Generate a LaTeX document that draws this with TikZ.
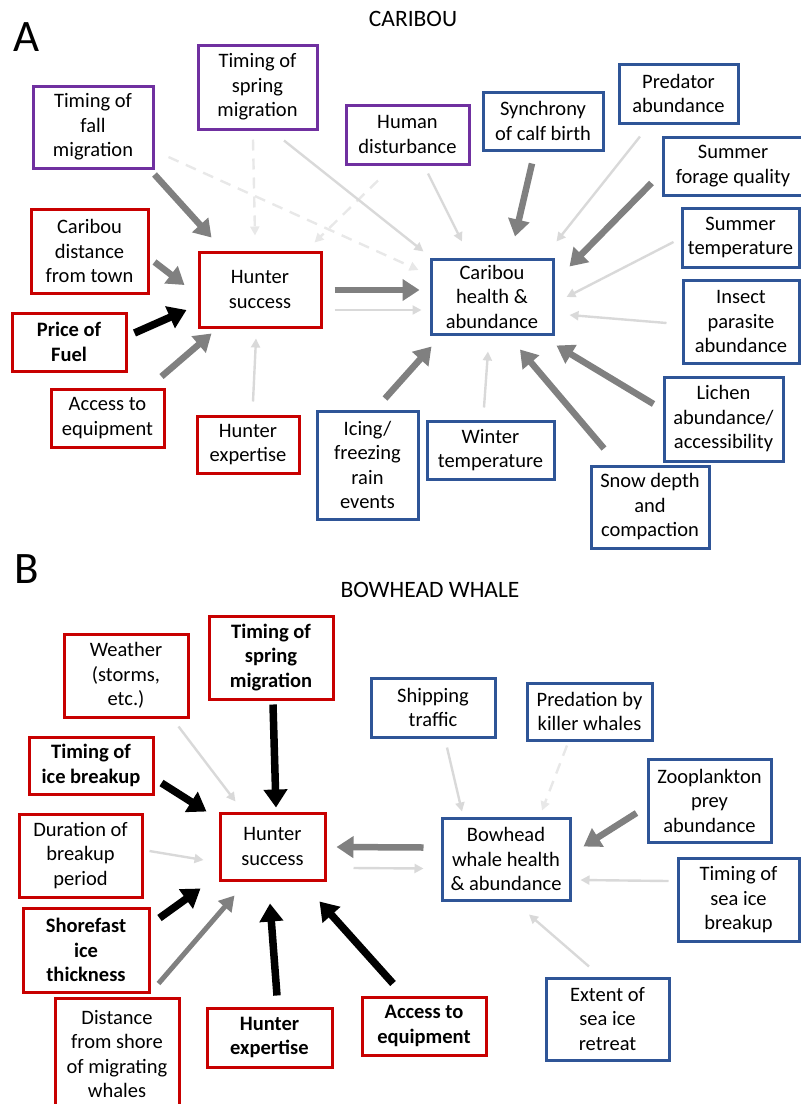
\documentclass[tikz,border=0pt]{standalone}
\usepackage{fontspec}
\setmainfont{Carlito}
\usetikzlibrary{arrows.meta}
\definecolor{boxred}{RGB}{200,0,0}
\definecolor{boxblue}{RGB}{47,85,151}
\definecolor{boxpurple}{RGB}{112,48,160}
\definecolor{arrgray}{RGB}{128,128,128}
\definecolor{arrlight}{RGB}{217,217,217}
\definecolor{arrfaint}{RGB}{232,232,232}
\tikzset{
  box/.style={draw, line width=3pt, fill=white, inner sep=0pt, align=center,
    font=\fontsize{20.5}{24.5}\selectfont},
  redbox/.style={box, draw=boxred},
  bluebox/.style={box, draw=boxblue},
  purplebox/.style={box, draw=boxpurple},
  strong/.style={line width=6.5pt, arrgray, -{Triangle[length=17pt,width=21pt]}},
  black strong/.style={line width=7.5pt, black, -{Triangle[length=18pt,width=23pt]}},
  weak/.style={line width=2.4pt, arrlight, -{Triangle[length=9pt,width=9pt]}},
  faint/.style={line width=2.4pt, arrfaint, dash pattern=on 11pt off 8pt, -{Triangle[length=9pt,width=9pt]}},
  panel/.style={font=\fontsize{45}{50}\selectfont},
  heading/.style={font=\fontsize{23.5}{27}\selectfont}
}
\begin{document}
\begin{tikzpicture}[x=1pt,y=-1pt]
\useasboundingbox (0,0) rectangle (801,1104);

% ---------------- Panel A: caribou ----------------
\node[panel] (labA) at (27,37) {A};
\node[heading] (titleA) at (413,19) {CARIBOU};

% boxes
\node[purplebox, minimum width=119pt, minimum height=84pt] (springA) at (257.5,87) {Timing of\\spring\\migration};
\node[purplebox, minimum width=123pt, minimum height=59pt] (humdist) at (407.5,134.5) {Human\\disturbance};
\node[purplebox, minimum width=120pt, minimum height=82pt] (fall) at (93,127) {Timing of\\fall\\migration};
\node[redbox, minimum width=117pt, minimum height=84pt] (cdist) at (89.5,251) {Caribou\\distance\\from town};
\node[redbox, minimum width=122pt, minimum height=75pt] (hsA) at (260,289.5) {Hunter\\success};
\node[redbox, minimum width=114pt, minimum height=58pt] (fuel) at (69,342) {\textbf{Price of}\\\textbf{Fuel}};
\node[redbox, minimum width=113pt, minimum height=58pt] (accA) at (107.5,418) {Access to\\equipment};
\node[redbox, minimum width=102pt, minimum height=57pt] (hexA) at (248,444.5) {Hunter\\expertise};
\node[bluebox, minimum width=122pt, minimum height=75pt] (chA) at (492,296.5) {Caribou\\health \&\\abundance};
\node[bluebox, minimum width=101pt, minimum height=108pt] (icing) at (367.5,465) {Icing/\\freezing\\rain\\events};
\node[bluebox, minimum width=127pt, minimum height=58pt] (wint) at (490.5,450) {Winter\\temperature};
\node[bluebox, minimum width=118pt, minimum height=82pt] (snow) at (650,507) {Snow depth\\and\\compaction};
\node[bluebox, minimum width=119pt, minimum height=84pt] (lichen) at (723.5,419) {Lichen\\abundance/\\accessibility};
\node[bluebox, minimum width=116pt, minimum height=83pt] (insect) at (741,321.5) {Insect\\parasite\\abundance};
\node[bluebox, minimum width=117pt, minimum height=59pt] (stemp) at (740.5,237.5) {Summer\\temperature};
\node[bluebox, minimum width=140pt, minimum height=58pt] (sforage) at (733,166) {Summer\\forage quality};
\node[bluebox, minimum width=119pt, minimum height=59pt] (pred) at (678.5,93.5) {Predator\\abundance};
\node[bluebox, minimum width=120pt, minimum height=58pt] (synch) at (543,121) {Synchrony\\of calf birth};

% links into hunter success
\draw[strong] ([shift={(0,5)}]fall.south east) -- ([shift={(14,-13)}]hsA.north west);
\draw[strong] ([shift={(5,11)}]cdist.east) -- ([shift={(-13,-4.5)}]hsA.west);
\draw[black strong] ([shift={(7,-9)}]fuel.east) -- ([shift={(-11,20.5)}]hsA.west);
\draw[strong] ([shift={(-4,-11)}]accA.north east) -- ([shift={(14,5)}]hsA.south west);
\draw[weak] ([shift={(5,-13)}]hexA.north) -- ([shift={(-4,10)}]hsA.south);
\draw[faint] ([shift={(-4.5,9)}]springA.south) -- ([shift={(-5,-15)}]hsA.north);
\draw[faint] ([shift={(-29.5,15)}]humdist.south) -- ([shift={(-8,-8)}]hsA.north east);

% links into caribou health
\draw[strong] ([shift={(12,0.5)}]hsA.east) -- ([shift={(-10,-6.5)}]chA.west);
\draw[weak] ([shift={(12,20.5)}]hsA.east) -- ([shift={(-8,13.5)}]chA.west);
\draw[weak] ([shift={(26.5,10)}]springA.south) -- ([shift={(-6,-6)}]chA.north west);
\draw[weak] ([shift={(20.5,8)}]humdist.south) -- ([shift={(-30,-16)}]chA.north);
\draw[faint] ([shift={(14,30)}]fall.east) -- ([shift={(-11,-26.5)}]chA.west);
\draw[strong] ([shift={(-11,12)}]synch.south) -- ([shift={(23,-21)}]chA.north);
\draw[weak] ([shift={(-38.5,12)}]pred.south) -- ([shift={(2,-16)}]chA.north east);
\draw[strong] ([shift={(-10,17)}]sforage.west) -- ([shift={(15,9)}]chA.north east);
\draw[weak] ([shift={(-7,4.5)}]stemp.west) -- ([shift={(12,0.5)}]chA.east);
\draw[weak] ([shift={(-15,1.5)}]insect.west) -- ([shift={(15,18.5)}]chA.east);
\draw[strong] ([shift={(-9,-15)}]lichen.west) -- ([shift={(2,10)}]chA.south east);
\draw[strong] ([shift={(-46,-16)}]snow.north) -- ([shift={(28,14)}]chA.south);
\draw[weak] ([shift={(-6.5,-12)}]wint.north) -- ([shift={(-4,16)}]chA.south);
\draw[strong] ([shift={(17.5,-11)}]icing.north) -- ([shift={(2,11)}]chA.south west);

% ---------------- Panel B: bowhead whale ----------------
\node[panel] (labB) at (27,569) {B};
\node[heading] (titleB) at (430,590) {BOWHEAD WHALE};

\node[redbox, minimum width=124pt, minimum height=83pt] (weather) at (126,675.5) {Weather\\(storms,\\etc.)};
\node[redbox, minimum width=124pt, minimum height=83pt] (springB) at (271,657.5) {\textbf{Timing of}\\\textbf{spring}\\\textbf{migration}};
\node[redbox, minimum width=124pt, minimum height=57pt] (icebr) at (91,765.5) {\textbf{Timing of}\\\textbf{ice breakup}};
\node[bluebox, minimum width=124pt, minimum height=59pt] (ship) at (433,707.5) {Shipping\\traffic};
\node[bluebox, minimum width=125pt, minimum height=57pt] (killer) at (589.5,711.5) {Predation by\\killer whales};
\node[bluebox, minimum width=123pt, minimum height=83pt] (zoo) at (709.5,800.5) {Zooplankton\\prey\\abundance};
\node[bluebox, minimum width=128pt, minimum height=82pt] (bow) at (506,859) {Bowhead\\whale health\\\& abundance};
\node[bluebox, minimum width=121pt, minimum height=83pt] (tsea) at (738.5,900) {Timing of\\sea ice\\breakup};
\node[bluebox, minimum width=123pt, minimum height=82pt] (extent) at (607.5,1019) {Extent of\\sea ice\\retreat};
\node[redbox, minimum width=105pt, minimum height=67pt] (hsB) at (272.5,846.5) {Hunter\\success};
\node[redbox, minimum width=123pt, minimum height=83pt] (dur) at (80.5,855.5) {Duration of\\breakup\\period};
\node[redbox, minimum width=126pt, minimum height=84pt] (shore) at (86,950) {\textbf{Shorefast}\\\textbf{ice}\\\textbf{thickness}};
\node[redbox, minimum width=124pt, minimum height=112pt] (dist) at (117,1054) {Distance\\from shore\\of migrating\\whales};
\node[redbox, minimum width=125pt, minimum height=59pt] (hexB) at (269.5,1037.5) {\textbf{Hunter}\\\textbf{expertise}};
\node[redbox, minimum width=124pt, minimum height=58pt] (accB) at (424,1026) {\textbf{Access to}\\\textbf{equipment}};

% links into hunter success
\draw[black strong] ([shift={(2,4)}]springB.south) -- ([shift={(3.5,-4)}]hsB.north);
\draw[weak] ([shift={(-11,8)}]weather.south east) -- ([shift={(17,-10)}]hsB.north west);
\draw[black strong] ([shift={(7,17.5)}]icebr.east) -- ([shift={(-12,0)}]hsB.north west);
\draw[weak] ([shift={(6,-4.5)}]dur.east) -- ([shift={(-15,13.5)}]hsB.west);
\draw[black strong] ([shift={(9,-32)}]shore.east) -- ([shift={(-18,7)}]hsB.south west);
\draw[line width=5pt, arrgray, -{Triangle[length=15pt,width=17pt]}] ([shift={(-22,-13)}]dist.north east) -- ([shift={(16,14)}]hsB.south west);
\draw[black strong] ([shift={(7.5,-11)}]hexB.north) -- ([shift={(-2.5,22)}]hsB.south);
\draw[black strong] ([shift={(-31,-12)}]accB.north) -- ([shift={(-7,20)}]hsB.south east);

% links between hunter success and whale health
\draw[strong] ([shift={(-17,-11.5)}]bow.west) -- ([shift={(10,0.5)}]hsB.east);
\draw[weak] ([shift={(27,21.5)}]hsB.east) -- ([shift={(-17,9.5)}]bow.west);

% links into whale health
\draw[weak] ([shift={(14,9)}]ship.south) -- ([shift={(-44,-5)}]bow.north);
\draw[faint] ([shift={(-22.5,4)}]killer.south) -- ([shift={(36,-6)}]bow.north);
\draw[strong] ([shift={(-10,12.5)}]zoo.west) -- ([shift={(12,-12.5)}]bow.east);
\draw[weak] ([shift={(-8,-19)}]tsea.west) -- ([shift={(9,21)}]bow.east);
\draw[weak] ([shift={(-18.5,-10)}]extent.north) -- ([shift={(23,13)}]bow.south);
\end{tikzpicture}
\end{document}
